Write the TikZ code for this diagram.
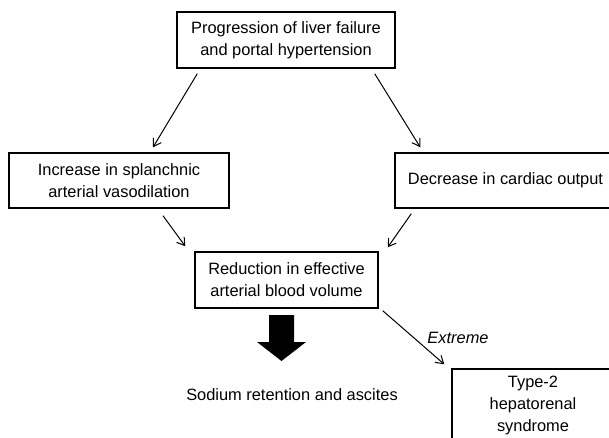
\documentclass[tikz,border=0pt]{standalone}
\usepackage{fontspec}
\setmainfont{Liberation Sans}
\usetikzlibrary{arrows.meta,calc}
\begin{document}
\begin{tikzpicture}[x=0.75pt,y=-0.75pt,
  txt/.style={font=\fontsize{12.3}{16.5}\selectfont},
  box/.style={txt, draw=black, line width=1.1pt, align=center, inner sep=0pt},
  arr/.style={line width=0.75pt, -{Straight Barb[length=5.5pt,width=7pt]}},
  lbl/.style={txt, inner sep=0pt}]
\clip (0,0) rectangle (609,438);
\node[box, minimum width=163.5pt, minimum height=42pt] (top) at (286,40)
  {Progression of liver failure\\and portal hypertension};
\node[box, minimum width=165pt, minimum height=41.25pt] (left) at (119,180.5)
  {Increase in splanchnic\\arterial vasodilation};
\node[box, minimum width=165.75pt, minimum height=41.25pt] (right) at (505.5,180.5)
  {Decrease in cardiac output};
\node[box, minimum width=137.25pt, minimum height=42pt] (red) at (286.5,280)
  {Reduction in effective\\arterial blood volume};
\node[box, minimum width=121.5pt, minimum height=54pt] (hrs) at (533,405)
  {Type-2\\hepatorenal\\syndrome};
\node[lbl] (sod) at (292,395) {Sodium retention and ascites};
\node[lbl, font=\fontsize{12.3}{16.5}\selectfont\itshape] (ext) at (458,338) {Extreme};
\draw[arr] ($(top.south west)+(21,5)$) -- ($(left.north)+(34,-5)$);
\draw[arr] ($(top.south east)+(-21,5)$) -- ($(right.north west)+(26,-5)$);
\draw[arr] ($(left.south)+(44,7)$) -- ($(red.north west)+(-9,-5)$);
\draw[arr] ($(right.south west)+(17,5)$) -- ($(red.north east)+(9,-4)$);
\draw[arr] ($(red.south east)+(4,2)$) -- ($(hrs.north west)+(-7,-4)$);
\fill[black] (269,315) -- (294,315) -- (294,342) -- (306,342) -- (281.5,361)
  -- (257,342) -- (269,342) -- cycle;
\end{tikzpicture}
\end{document}
